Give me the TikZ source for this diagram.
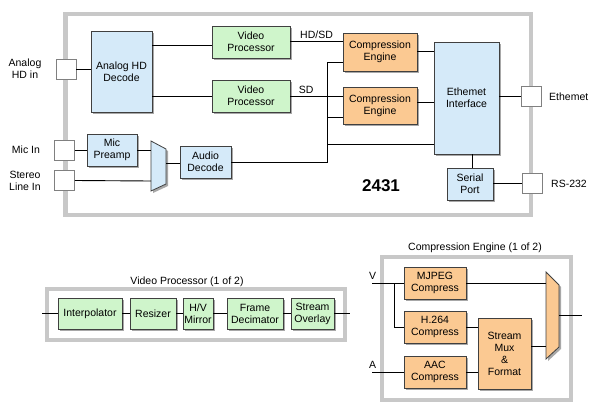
\documentclass[tikz,border=0pt]{standalone}
\usepackage{fontspec}
\setmainfont{Liberation Sans}
\usetikzlibrary{shadows}
\definecolor{bl}{HTML}{D5EAF9}
\definecolor{gr}{HTML}{CFF5CB}
\definecolor{orf}{HTML}{FBC992}
\definecolor{bd}{HTML}{404040}
\definecolor{sh}{HTML}{A8A8A8}
\definecolor{fr}{HTML}{C8C8C8}
\tikzset{
  blk/.style={draw=bd, line width=0.8pt, inner sep=0pt, align=center,
    font=\fontsize{10.5}{12}\selectfont,
    drop shadow={shadow xshift=2pt, shadow yshift=-2pt, fill=sh, opacity=1}},
  bluebox/.style={blk, fill=bl},
  greenbox/.style={blk, fill=gr},
  orangebox/.style={blk, fill=orf},
  port/.style={draw=gray, line width=0.8pt, fill=white, minimum size=20pt, inner sep=0pt},
  frame/.style={draw=fr, line width=4.5pt, fill=white},
  wire/.style={line width=0.9pt},
  lbl/.style={font=\fontsize{10.5}{12}\selectfont, align=center, inner sep=0pt},
}
\begin{document}
\begin{tikzpicture}[x=1pt,y=-1pt]
\useasboundingbox (0,0) rectangle (599,412);
\fill[white] (0,0) rectangle (599,412);

% ===== main block =====
\draw[frame] (65.5,14) rectangle (531,215);

\node[port] (ahdin) at (66,69) {};
\node[port] (micin) at (64.5,150) {};
\node[port] (stin) at (64.5,180.5) {};
\node[port] (ethp) at (531,96.5) {};
\node[port] (rsp) at (532,183.5) {};

\node[lbl] (lahd) at (25,69) {Analog\\HD in};
\node[lbl] (lmic) at (26,150) {Mic In};
\node[lbl] (lst) at (25,180.5) {Stereo\\Line In};
\node[lbl, anchor=west] (leth) at (549,96.5) {Ethemet};
\node[lbl, anchor=west] (lrs) at (551,184) {RS-232};
\node[font=\fontsize{17}{20}\selectfont\bfseries, inner sep=0pt] (num) at (381,186) {2431};

\node[bluebox, minimum width=61pt, minimum height=81pt] (dec) at (121.5,71.5) {Analog HD\\Decode};
\node[greenbox, minimum width=78pt, minimum height=32pt] (vp1) at (251,42) {Video\\Processor};
\node[greenbox, minimum width=78pt, minimum height=32pt] (vp2) at (251,96) {Video\\Processor};
\node[bluebox, minimum width=50pt, minimum height=32pt] (pre) at (112,150) {Mic\\Preamp};
\node[bluebox, minimum width=51pt, minimum height=32pt] (adec) at (205.5,162) {Audio\\Decode};
\node[orangebox, minimum width=74pt, minimum height=38pt] (ce1) at (380,52) {Compression\\Engine};
\node[orangebox, minimum width=74pt, minimum height=37pt] (ce2) at (380,105.5) {Compression\\Engine};
\node[bluebox, minimum width=65pt, minimum height=112pt] (ei) at (466.5,98) {Ethemet\\Interface};
\node[bluebox, minimum width=46pt, minimum height=32pt] (ser) at (470,184) {Serial\\Port};

% audio mux
\path[draw=bd, line width=0.8pt, fill=bl,
  drop shadow={shadow xshift=2pt, shadow yshift=-2pt, fill=sh, opacity=1}]
  (151,141) -- (166,149) -- (166,184) -- (151,191) -- cycle;
\coordinate (mux1a) at (151,150);
\coordinate (mux1b) at (151,181);
\coordinate (mux1o) at (166,163);
\coordinate (bus) at (327,62);

\draw[wire] (ahdin.east) -- (dec.west |- ahdin.east);
\draw[wire] (dec.east |- 0,45) -- (vp1.west |- 0,45);
\draw[wire] (dec.east |- 0,96) -- (vp2.west |- 0,96);
\draw[wire] (vp1.east |- 0,41) -- node[lbl, above=2pt, pos=0.5] (lhd) {HD/SD} (ce1.west |- 0,41);
\draw[wire] (vp2.east |- 0,96) -- node[lbl, above=2pt, pos=0.3] (lsd) {SD} (ce2.west |- 0,96);
\draw[wire] (micin.east) -- (pre.west);
\draw[wire] (pre.east) -- (mux1a);
\draw[wire] (stin.east) -- (mux1b);
\draw[wire] (mux1o) -- (adec.west |- mux1o);
\draw[wire] (adec.east) -- (bus |- adec.east) -- (bus) -- (ce1.west |- bus);
\draw[wire] (bus |- 0,117) -- (ce2.west |- 0,117);
\draw[wire] (bus |- 0,144) -- (ei.west |- 0,144);
\draw[wire] (ce1.east |- 0,51) -- (ei.west |- 0,51);
\draw[wire] (ce2.east |- 0,102) -- (ei.west |- 0,102);
\draw[wire] (ei.east |- ethp.west) -- (ethp.west);
\draw[wire] (ser.north -| 472,0) -- (ei.south -| 472,0);
\draw[wire] (ser.east |- rsp.west) -- (rsp.west);

% ===== Video processor detail =====
\node[lbl] (tvp) at (187,282) {Video Processor (1 of 2)};
\draw[frame] (47,289) rectangle (345,340);
\node[greenbox, minimum width=64pt, minimum height=31pt] (ip) at (90,313.5) {Interpolator};
\node[greenbox, minimum width=46pt, minimum height=31pt] (rz) at (153,313.5) {Resizer};
\node[greenbox, minimum width=30pt, minimum height=31pt] (hv) at (198,313.5) {H/V\\Mirror};
\node[greenbox, minimum width=56pt, minimum height=31pt] (fd) at (255,313.5) {Frame\\Decimator};
\node[greenbox, minimum width=43pt, minimum height=31pt] (so) at (312.5,313.5) {Stream\\Overlay};
\coordinate (vpin) at (42,313.5);
\coordinate (vpout) at (350,313.5);
\draw[wire] (vpin) -- (ip.west);
\draw[wire] (ip.east) -- (rz.west);
\draw[wire] (rz.east) -- (hv.west);
\draw[wire] (hv.east) -- (fd.west);
\draw[wire] (fd.east) -- (so.west);
\draw[wire] (so.east) -- (vpout);

% ===== Compression engine detail =====
\node[lbl] (tce) at (475,248) {Compression Engine (1 of 2)};
\draw[frame] (382,257) rectangle (571,400);
\node[orangebox, minimum width=62pt, minimum height=32pt] (mj) at (435,283) {MJPEG\\Compress};
\node[orangebox, minimum width=62pt, minimum height=32pt] (h2) at (435,327) {H.264\\Compress};
\node[orangebox, minimum width=62pt, minimum height=32pt] (aac) at (435,372) {AAC\\Compress};
\node[orangebox, minimum width=53pt, minimum height=71pt] (smf) at (504.5,353.5) {Stream\\Mux\\\&\\Format};
\path[draw=bd, line width=0.8pt, fill=orf,
  drop shadow={shadow xshift=2pt, shadow yshift=-2pt, fill=sh, opacity=1}]
  (546,272) -- (559,285) -- (559,347) -- (546,359) -- cycle;
\coordinate (vin) at (372,283);
\coordinate (ain) at (372,372);
\coordinate (vbr) at (394,283);
\coordinate (mux2out) at (582,315);
\coordinate (mux2o) at (559,315);
\node[lbl, anchor=south west] (lv) at (369,280) {V};
\node[lbl, anchor=south west] (la) at (369,369) {A};
\draw[wire] (vin) -- (mj.west);
\draw[wire] (vbr) -- (vbr |- h2.west) -- (h2.west);
\draw[wire] (mj.east) -- (546,283);
\draw[wire] (h2.east) -- (smf.west |- h2.east);
\draw[wire] (ain) -- (aac.west);
\draw[wire] (aac.east) -- (smf.west |- aac.east);
\draw[wire] (smf.east |- 0,346) -- (546,346);
\draw[wire] (mux2o) -- (mux2out);
\end{tikzpicture}
\end{document}
